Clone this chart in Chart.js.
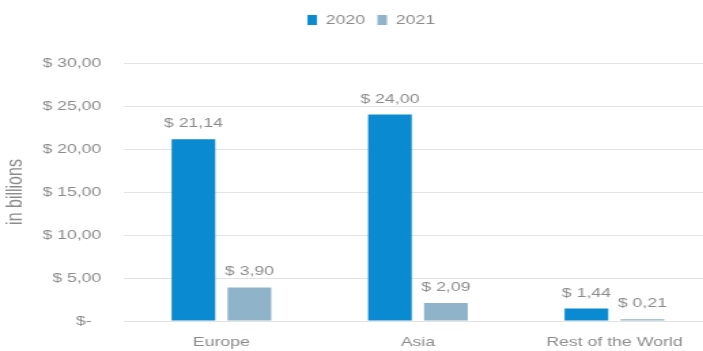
<!DOCTYPE html>
<html>
<head>
<meta charset="utf-8">
<script src="https://cdn.jsdelivr.net/npm/chart.js@4.4.1/dist/chart.umd.min.js"></script>
<style>
    html, body { margin: 0; padding: 0; background: #fff; overflow: hidden; }
    /* the chart is laid out narrow and widened, which gives the wide lettering;
       the right end of the plot runs past the window edge */
    .wide { width: 524px; height: 351px; transform: scaleX(1.36); transform-origin: 0 0; }
    #revenueChart { display: block; }
</style>
</head>
<body>
<div class="wide">
    <canvas id="revenueChart" width="524" height="351"></canvas>
</div>
<script>
const regions = ['Europe', 'Asia', 'Rest of the World'];
const years = ['2020', '2021'];
const values2020 = [21.14, 24.00, 1.44];
const values2021 = [3.90, 2.09, 0.21];
const yTicks = [0, 5, 10, 15, 20, 25, 30];

const textGray = '#8c8c8c';
const fontFamily = '"Liberation Sans", Arial, sans-serif';

function money(v) {
    if (v === 0) return '$-  ';
    return '$ ' + v.toFixed(2).replace('.', ',');
}

// value labels above each bar
const barValues = {
    id: 'barValues',
    afterDatasetsDraw(chart) {
        const ctx = chart.ctx;
        ctx.save();
        ctx.font = '13px ' + fontFamily;
        ctx.fillStyle = textGray;
        ctx.textAlign = 'center';
        ctx.textBaseline = 'alphabetic';
        chart.data.datasets.forEach((ds, i) => {
            chart.getDatasetMeta(i).data.forEach((bar, j) => {
                ctx.fillText(money(ds.data[j]), bar.x, bar.y - 12);
            });
        });
        ctx.restore();
    }
};

// more room under the legend, and nudge it a bit to the right
const legendGap = {
    id: 'legendGap',
    beforeInit(chart) {
        const fit = chart.legend.fit;
        chart.legend.fit = function () {
            fit.bind(chart.legend)();
            this.height += 26.5;
        };
    },
    afterLayout(chart) {
        chart.legend.left += 11;
        chart.legend.right += 11;
    }
};

const ctx = document.getElementById('revenueChart').getContext('2d');

new Chart(ctx, {
    type: 'bar',
    data: {
        labels: regions,
        datasets: [{
            label: years[0],
            data: values2020,
            backgroundColor: '#0a8ad1',
            categoryPercentage: 0.57,
            barPercentage: 0.78
        }, {
            label: years[1],
            data: values2021,
            backgroundColor: '#8fb3c8',
            categoryPercentage: 0.57,
            barPercentage: 0.78
        }]
    },
    options: {
        responsive: false,
        animation: false,
        devicePixelRatio: 1,
        layout: {
            padding: { top: 4.5, right: 0, bottom: -13.6, left: 0 }
        },
        plugins: {
            legend: {
                position: 'top',
                labels: {
                    boxWidth: 7,
                    boxHeight: 10,
                    padding: 9,
                    color: textGray,
                    font: { family: fontFamily, size: 13 }
                }
            },
            tooltip: { enabled: false }
        },
        scales: {
            x: {
                grid: { display: false, drawTicks: false },
                border: { display: false },
                ticks: {
                    color: textGray,
                    padding: 14,
                    font: { family: fontFamily, size: 13 }
                }
            },
            y: {
                min: 0,
                max: 30,
                afterBuildTicks(scale) {
                    scale.ticks = yTicks.map(v => ({ value: v }));
                },
                grid: {
                    color: '#e3e3e3',
                    drawTicks: false
                },
                border: { display: false },
                ticks: {
                    color: textGray,
                    padding: 16,
                    font: { family: fontFamily, size: 13 },
                    callback: v => money(v)
                },
                title: {
                    display: true,
                    text: 'in billions',
                    color: textGray,
                    font: { family: fontFamily, size: 16, lineHeight: 0.5 },
                    padding: { top: 7.2, bottom: 0 }
                }
            }
        }
    },
    plugins: [barValues, legendGap]
});
</script>
</body>
</html>
